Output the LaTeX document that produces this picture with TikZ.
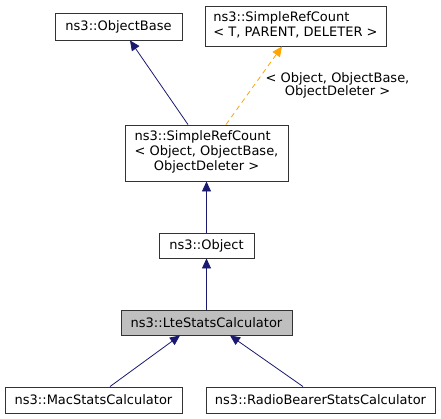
\documentclass[tikz,border=0pt]{standalone}
\usepackage{fontspec}
\setmainfont{DejaVu Sans}
\usetikzlibrary{arrows.meta}
\definecolor{edgeblue}{HTML}{191970}
\definecolor{edgeorange}{HTML}{FFA500}
\definecolor{boxgray}{HTML}{BFBFBF}
\tikzset{
  cls/.style={draw=black!80, line width=0.9pt, fill=white, inner sep=0pt, font=\fontsize{13}{15}\selectfont},
  inh/.style={draw=edgeblue, line width=0.8pt, -{Triangle[length=10pt,width=9pt]}},
  tmpl/.style={draw=edgeorange, line width=0.8pt, dashed, dash pattern=on 5pt off 4pt, -{Triangle[length=10pt,width=9pt,fill=edgeorange]}},
  lbl/.style={font=\fontsize{13}{13.5}\selectfont, align=center, inner sep=0pt}
}
\begin{document}
\begin{tikzpicture}[x=1pt,y=-1pt]
\useasboundingbox (0,0) rectangle (441,419);
\node[cls, minimum width=127pt, minimum height=27pt] (ob) at (118.5,26.5) {ns3::ObjectBase};
\node[cls, minimum width=181pt, minimum height=40pt] (srct) at (295.5,26) {\begin{tabular}{@{}l@{}}ns3::SimpleRefCount\\< T, PARENT, DELETER >\end{tabular}};
\node[cls, minimum width=163pt, minimum height=56pt] (srco) at (206.5,153) {\begin{tabular}{@{}l@{}}ns3::SimpleRefCount\\< Object, ObjectBase,\\\multicolumn{1}{@{}c@{}}{ObjectDeleter >}\end{tabular}};
\node[cls, minimum width=95pt, minimum height=25pt] (obj) at (206.5,245.5) {ns3::Object};
\node[cls, fill=boxgray, minimum width=171pt, minimum height=25pt] (lte) at (206.5,322.5) {ns3::LteStatsCalculator};
\node[cls, minimum width=177pt, minimum height=26pt] (mac) at (93.5,400) {ns3::MacStatsCalculator};
\node[cls, minimum width=229pt, minimum height=26pt] (rb) at (320.5,400) {ns3::RadioBearerStatsCalculator};
\draw[inh] (srco.north -| 188,0) -- (ob.south -| 130,0);
\draw[tmpl] (srco.north -| 226,0) -- (srct.south -| 282,0);
\node[lbl] (tl) at (337.5,85.5) {< Object, ObjectBase,\\ObjectDeleter >};
\draw[inh] (obj.north) -- (srco.south);
\draw[inh] (lte.north) -- (obj.south);
\draw[inh] (mac.north -| 110,0) -- (lte.south -| 180,0);
\draw[inh] (rb.north -| 303,0) -- (lte.south -| 230,0);
\end{tikzpicture}
\end{document}
